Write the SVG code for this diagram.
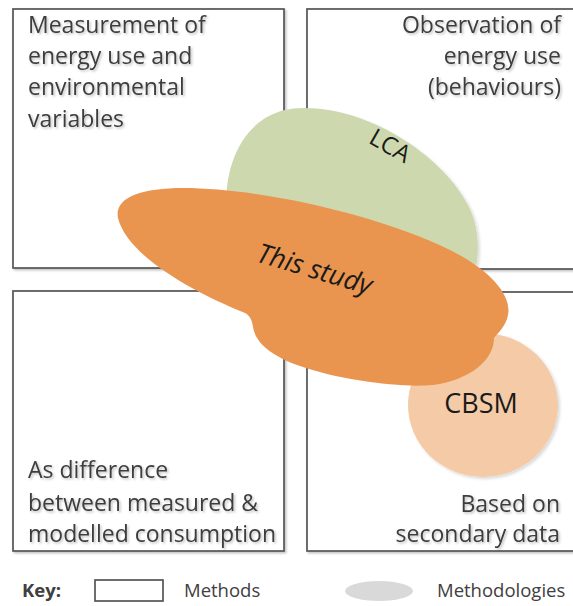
<svg xmlns="http://www.w3.org/2000/svg" width="573" height="606" viewBox="0 0 573 606">
  <defs>
    <filter id="soft" x="-10%" y="-10%" width="130%" height="130%">
      <feDropShadow dx="1.5" dy="1.5" stdDeviation="1" flood-color="#000" flood-opacity="0.25"/>
    </filter>
    <filter id="blobShadow" x="-10%" y="-10%" width="130%" height="130%">
      <feDropShadow dx="2" dy="2" stdDeviation="1.5" flood-color="#000" flood-opacity="0.15"/>
    </filter>
  </defs>
  <style>
    .method { fill: #ffffff; stroke: #555555; stroke-width: 1.7; filter: url(#soft); }
    .label { font-family: "Open Sans", "Liberation Sans", sans-serif; font-size: 23px; fill: #3d3d3d; filter: url(#soft); }
    .right { text-anchor: end; }
    .blobtext { font-family: "Open Sans", "Liberation Sans", sans-serif; fill: #1a1a1a; }
    .key { font-family: "Open Sans", "Liberation Sans", sans-serif; font-size: 18.5px; fill: #404040; }
  </style>

  <!-- Method boxes -->
  <g id="method-measurement">
    <rect class="method" x="13" y="9" width="271" height="259"/>
    <text class="label" x="28" y="33">Measurement of</text>
    <text class="label" x="28" y="64">energy use and</text>
    <text class="label" x="28" y="95">environmental</text>
    <text class="label" x="28" y="127">variables</text>
  </g>

  <g id="method-observation">
    <rect class="method" x="307" y="9" width="290" height="260"/>
    <text class="label right" x="561" y="33">Observation of</text>
    <text class="label right" x="561" y="64">energy use</text>
    <text class="label right" x="561" y="95">(behaviours)</text>
  </g>

  <g id="method-difference">
    <rect class="method" x="13" y="291" width="271" height="260"/>
    <text class="label" x="28" y="478">As difference</text>
    <text class="label" x="28" y="511">between measured &amp;</text>
    <text class="label" x="28" y="542">modelled consumption</text>
  </g>

  <g id="method-secondary">
    <rect class="method" x="307" y="292" width="290" height="259"/>
    <text class="label right" x="560" y="512">Based on</text>
    <text class="label right" x="560" y="542">secondary data</text>
  </g>

  <!-- Methodologies -->
  <g id="methodology-lca">
    <path d="M227,215 C222,165 245,108 303,108 C375,108 445,160 468,205 C481,230 479,258 474,275 L300,240 Z" fill="#cdd8ae" filter="url(#blobShadow)"/>
    <text class="blobtext" font-size="24" text-anchor="middle" transform="translate(386,153) rotate(30)">LCA</text>
  </g>

  <g id="methodology-cbsm">
    <ellipse cx="483" cy="405" rx="75" ry="72" fill="#f4cba6" filter="url(#blobShadow)"/>
    <text class="blobtext" font-size="27" text-anchor="middle" x="481" y="413" fill="#262626">CBSM</text>
  </g>

  <g id="methodology-this-study">
    <path d="M118,218 C114,198 140,188 183,188 C260,188 380,215 450,250 C490,270 512,295 508,315 C506,326 498,333 494,338 C494,360 470,380 433,385 C400,388 340,380 300,366 C275,357 256,345 253,327 C252,319 249,315 245,313 C200,295 128,258 118,218 Z" fill="#e9954f"/>
    <text class="blobtext" font-size="27" font-style="italic" text-anchor="middle" transform="translate(312,278) rotate(16.5)">This study</text>
  </g>

  <!-- Key -->
  <g id="key">
    <text class="key" x="22" y="597" font-weight="bold">Key:</text>
    <rect x="95" y="580" width="68" height="21" fill="#ffffff" stroke="#555555" stroke-width="1.7"/>
    <text class="key" x="184" y="597">Methods</text>
    <ellipse cx="379" cy="591" rx="34" ry="10" fill="#d9d9d9"/>
    <text class="key" x="437" y="597">Methodologies</text>
  </g>
</svg>
